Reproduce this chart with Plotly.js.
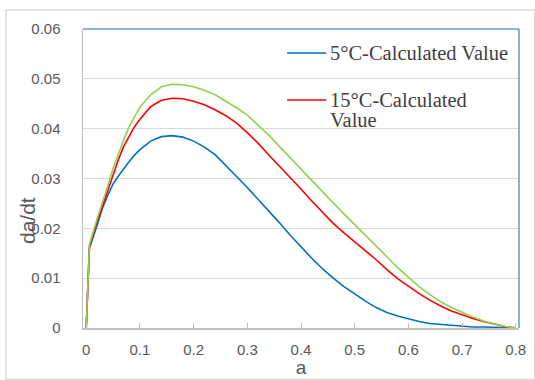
<!DOCTYPE html>
<html>
<head>
<meta charset="utf-8">
<script src="https://cdn.plot.ly/plotly-3.0.1.min.js"></script>
<style>
  html, body { margin: 0; padding: 0; background: #fff; }
  #chart { width: 535px; height: 380px; }
</style>
</head>
<body>
<div id="chart"></div>
<script>
// conversion degree a
const a = [0, 0.006, 0.02, 0.03, 0.04, 0.05, 0.06, 0.07, 0.08, 0.09, 0.10,
  0.12, 0.14, 0.16, 0.18, 0.20, 0.22, 0.24, 0.26, 0.28, 0.30,
  0.32, 0.34, 0.36, 0.38, 0.40, 0.42, 0.44, 0.46, 0.48, 0.50,
  0.52, 0.54, 0.56, 0.58, 0.60, 0.62, 0.64, 0.66, 0.68, 0.70,
  0.72, 0.74, 0.76, 0.78, 0.80];

// da/dt at 5 °C (calculated)
const rate5 = [0, 0.0160, 0.0205, 0.0240, 0.0266, 0.0289, 0.0305, 0.0320, 0.0334, 0.0347, 0.0358,
  0.0375, 0.0384, 0.0386, 0.0383, 0.0375, 0.0363, 0.0348, 0.0327, 0.0304, 0.0282,
  0.0259, 0.0236, 0.0211, 0.0186, 0.0162, 0.0140, 0.0119, 0.0100, 0.0083, 0.0068,
  0.0054, 0.0041, 0.0031, 0.0024, 0.0018, 0.0013, 0.0009, 0.0007, 0.0005, 0.0003,
  0.0002, 0.0002, 0.0001, 0.0001, 0];

// da/dt at 15 °C (calculated)
const rate15 = [0, 0.0165, 0.0212, 0.0244, 0.0274, 0.0307, 0.0338, 0.0365, 0.0386, 0.0404, 0.0419,
  0.0444, 0.0457, 0.0461, 0.0460, 0.0455, 0.0448, 0.0438, 0.0426, 0.0411, 0.0392,
  0.0371, 0.0347, 0.0325, 0.0303, 0.0279, 0.0255, 0.0232, 0.0210, 0.0191, 0.0173,
  0.0155, 0.0137, 0.0117, 0.0099, 0.0084, 0.0069, 0.0056, 0.0044, 0.0034, 0.0026,
  0.0019, 0.0013, 0.0008, 0.0003, 0];

// third series (no legend entry)
const rate3 = [0, 0.0168, 0.0218, 0.0250, 0.0285, 0.0320, 0.0350, 0.0378, 0.0404, 0.0425, 0.0443,
  0.0468, 0.0484, 0.0489, 0.0488, 0.0484, 0.0477, 0.0468, 0.0455, 0.0442, 0.0427,
  0.0408, 0.0387, 0.0364, 0.0341, 0.0318, 0.0296, 0.0273, 0.0251, 0.0229, 0.0208,
  0.0187, 0.0165, 0.0143, 0.0121, 0.0101, 0.0083, 0.0067, 0.0053, 0.0041, 0.0031,
  0.0022, 0.0014, 0.0008, 0.0003, 0];

const seriesNames = ['5°C-Calculated Value', '15°C-Calculated Value'];
const seriesColors = ['#0070C0', '#FF0000', '#92D050'];
const xTicks = [0, 0.1, 0.2, 0.3, 0.4, 0.5, 0.6, 0.7, 0.8];
const yTicks = [0, 0.01, 0.02, 0.03, 0.04, 0.05, 0.06];

const traces = [
  { x: a, y: rate5, name: seriesNames[0], mode: 'lines',
    line: { color: seriesColors[0], width: 1.6 } },
  { x: a, y: rate15, name: seriesNames[1], mode: 'lines',
    line: { color: seriesColors[1], width: 1.6 } },
  { x: a, y: rate3, name: 'series3', mode: 'lines',
    line: { color: seriesColors[2], width: 1.6 } }
];

const tickFont = { family: 'Liberation Sans, Arial, sans-serif', size: 15, color: '#595959' };
const legendFont = { family: 'Liberation Serif, Times New Roman, serif', size: 20.5, color: '#404040' };

// legend block (key lines + serif labels, the second label wraps onto two lines)
const keyX0 = 0.468, keyX1 = 0.558, textX = 0.561;
const keyRows = [0.9197, 0.7625];
const legendShapes = keyRows.map((yy, i) => ({
  type: 'line', xref: 'paper', yref: 'paper', x0: keyX0, x1: keyX1, y0: yy, y1: yy,
  line: { color: seriesColors[i], width: 1.6 }
}));
const legendText = [
  { text: seriesNames[0], y: keyRows[0] },
  { text: '15°C-Calculated', y: keyRows[1] },
  { text: 'Value', y: 0.6957 }
].map(t => ({
  xref: 'paper', yref: 'paper', x: textX, y: t.y, xanchor: 'left', yanchor: 'middle',
  text: t.text, showarrow: false, font: legendFont
}));

const layout = {
  width: 535, height: 380,
  margin: { l: 83, r: 16, t: 29, b: 52 },
  paper_bgcolor: '#ffffff', plot_bgcolor: '#ffffff',
  showlegend: false,
  xaxis: {
    range: [-0.006, 0.806], tickvals: xTicks, ticktext: xTicks.map(v => String(v)),
    showgrid: false, zeroline: false,
    showline: true, linecolor: '#BFBFBF', linewidth: 1.5,
    ticks: 'inside', ticklen: 5, tickcolor: '#BFBFBF', tickwidth: 1,
    ticklabelstandoff: 7,
    tickfont: tickFont,
    title: { text: 'a', font: { family: 'Liberation Sans, Arial, sans-serif', size: 19, color: '#595959' }, standoff: 1 }
  },
  yaxis: {
    range: [0, 0.06], tickvals: yTicks, ticktext: yTicks.map(v => String(v)),
    showgrid: true, gridcolor: '#D9D9D9', gridwidth: 1.3, zeroline: false,
    showline: true, linecolor: '#BFBFBF', linewidth: 1.5,
    ticks: '', ticklabelstandoff: 18,
    tickfont: tickFont
  },
  annotations: [
    { xref: 'paper', yref: 'paper', x: -0.126, y: 0.358, xanchor: 'center', yanchor: 'middle',
      text: 'da/dt', textangle: -90, showarrow: false,
      font: { family: 'Liberation Sans, Arial, sans-serif', size: 21, color: '#595959' } }
  ].concat(legendText),
  shapes: [
    // plot area frame: top and right edges
    { type: 'line', xref: 'paper', yref: 'paper', x0: 0, x1: 1, y0: 1, y1: 1,
      line: { color: '#5B9BD5', width: 1.5 }, layer: 'above' },
    { type: 'line', xref: 'paper', yref: 'paper', x0: 1, x1: 1, y0: 0, y1: 1,
      line: { color: '#5B9BD5', width: 1.5 }, layer: 'above' },
    // outer chart frame
    { type: 'rect', xref: 'paper', yref: 'paper', x0: -0.1766, x1: 1.036, y0: -0.172, y1: 1.0635,
      line: { color: '#D9D9D9', width: 1.5 }, layer: 'below' }
  ].concat(legendShapes)
};

Plotly.newPlot('chart', traces, layout, { displayModeBar: false, staticPlot: true });
</script>
</body>
</html>
